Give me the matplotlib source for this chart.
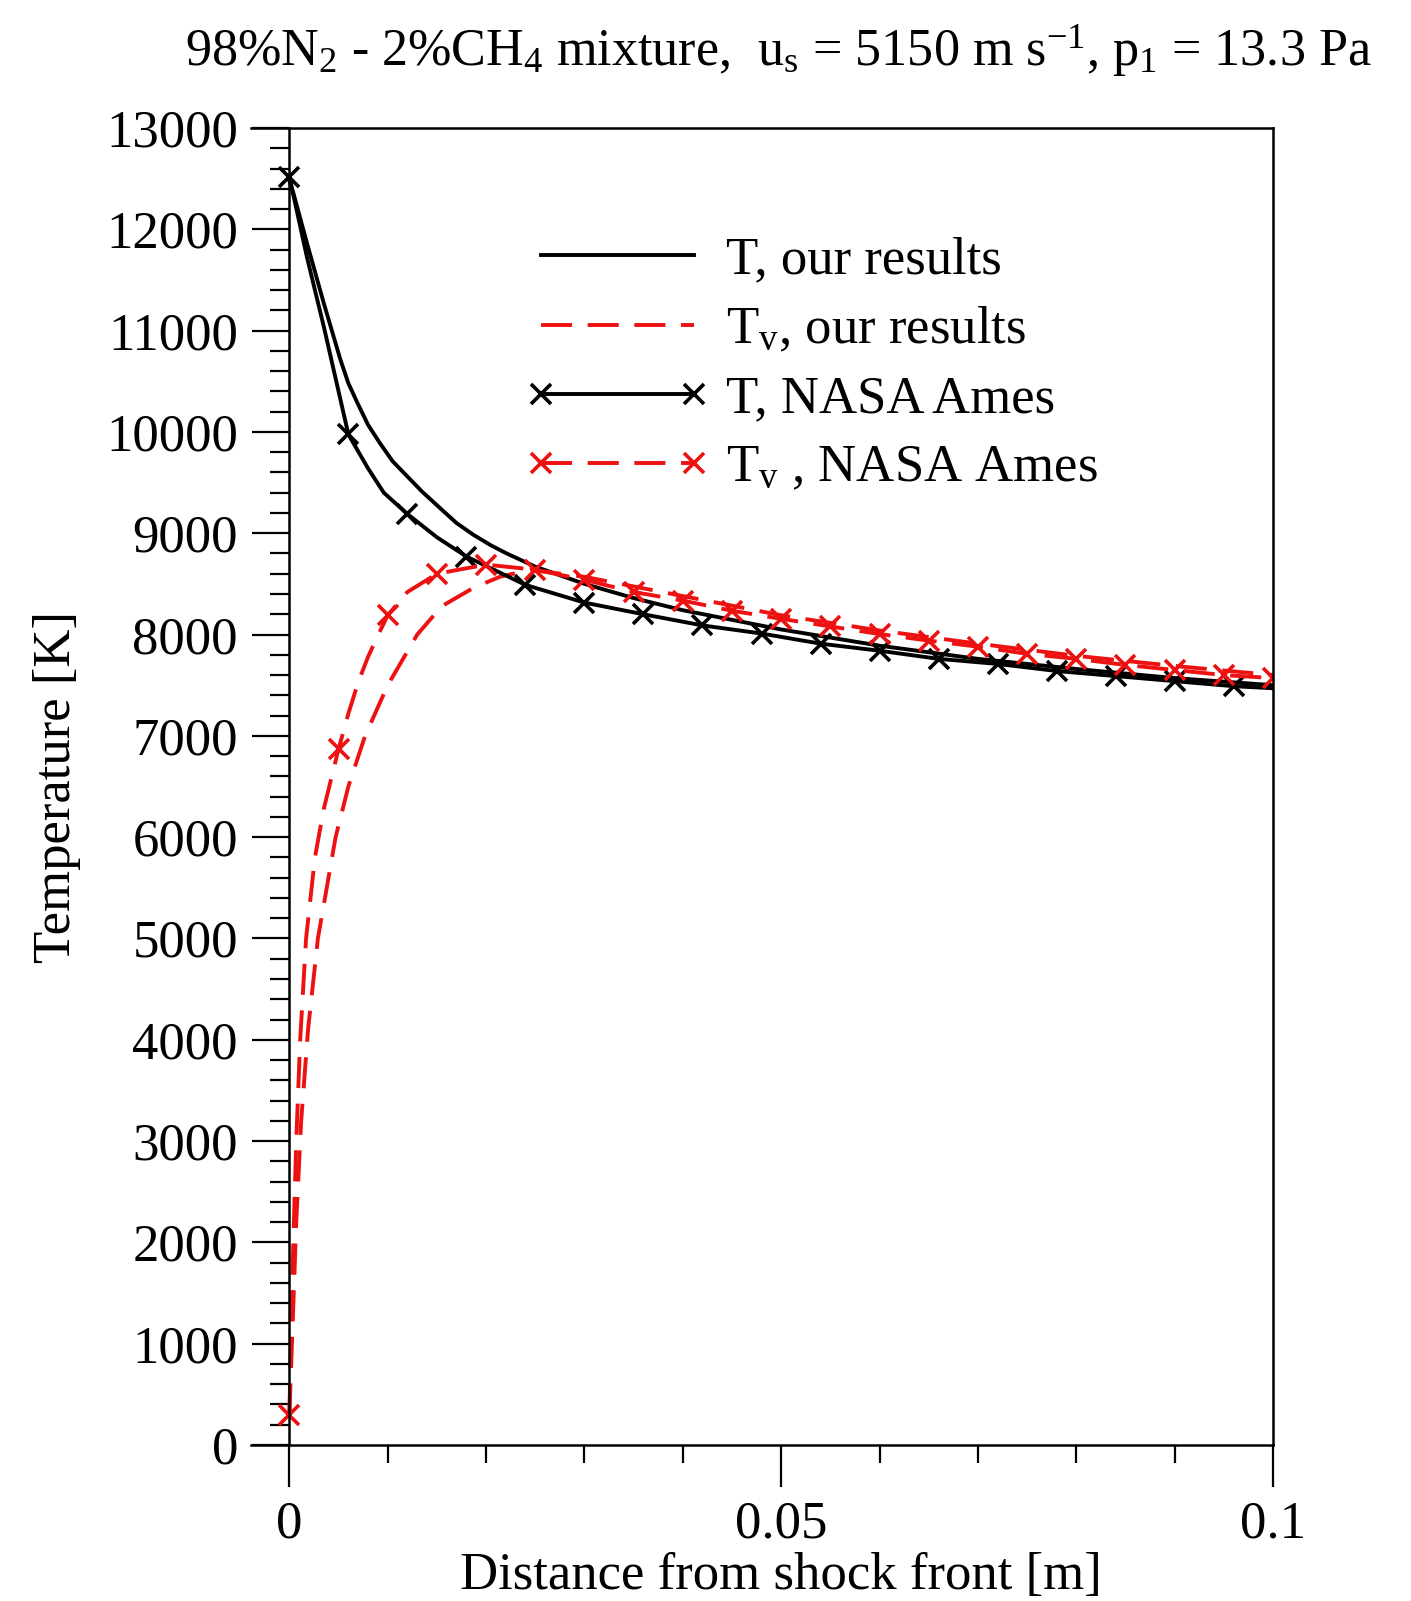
import numpy as np
import matplotlib.pyplot as plt
from matplotlib.ticker import MultipleLocator, FixedLocator

plt.rcParams['font.family'] = ['Liberation Serif', 'DejaVu Serif']
plt.rcParams['mathtext.default'] = 'regular'

# T, our results
x_t = [0, 0.0004, 0.0018, 0.0035, 0.0052, 0.006, 0.0069, 0.008, 0.0092, 0.0105,
       0.012, 0.0135, 0.0153, 0.017, 0.0187, 0.0205, 0.0221, 0.025, 0.03, 0.035,
       0.04, 0.05, 0.06, 0.07, 0.08, 0.09, 0.1]
t_ours = [12480, 12360, 11860, 11270, 10710, 10480, 10290, 10070, 9890, 9710,
          9560, 9410, 9250, 9100, 8985, 8880, 8800, 8670, 8500, 8360,
          8240, 8050, 7890, 7760, 7660, 7570, 7500]

# Tv, our results
x_tv = [0, 0.0003, 0.0007, 0.0012, 0.0019, 0.0029, 0.0047, 0.006, 0.0077, 0.01,
        0.013, 0.0155, 0.0187, 0.0214, 0.0245, 0.03, 0.04, 0.05, 0.06, 0.07,
        0.08, 0.09, 0.1]
tv_ours = [300, 1100, 2200, 3200, 4100, 5000, 6000, 6500, 7000, 7500,
           8000, 8280, 8460, 8570, 8640, 8570, 8380, 8190, 8040, 7910,
           7790, 7690, 7600]

# T, NASA Ames (symbols every 0.006 m)
x_t_nasa = [0, 0.0018, 0.0035, 0.006, 0.008, 0.0096, 0.012, 0.015, 0.018, 0.024,
            0.030, 0.036, 0.042, 0.048, 0.054, 0.060, 0.066, 0.072, 0.078, 0.084,
            0.090, 0.096, 0.1]
t_nasa = [12520, 11720, 11040, 9975, 9640, 9400, 9190, 8960, 8770, 8490,
          8315, 8200, 8090, 8010, 7910, 7840, 7760, 7710, 7640, 7590,
          7540, 7490, 7470]

# Tv, NASA Ames (symbols every 0.005 m)
x_tv_nasa = [0, 0.0002, 0.0004, 0.0007, 0.0011, 0.0017, 0.0026, 0.0035, 0.005, 0.006,
             0.007, 0.008, 0.009, 0.01, 0.012, 0.015, 0.02, 0.025, 0.03, 0.035,
             0.04, 0.045, 0.05, 0.055, 0.06, 0.065, 0.07, 0.075, 0.08, 0.085,
             0.09, 0.095, 0.1]
tv_nasa = [300, 1200, 2000, 3000, 4000, 5000, 5800, 6280, 6870, 7220,
           7530, 7780, 7990, 8190, 8420, 8600, 8690, 8640, 8540, 8420,
           8335, 8235, 8155, 8080, 8005, 7940, 7880, 7810, 7760, 7700,
           7650, 7600, 7570]


def symbol_indices(xs, step):
    return [i for i, x in enumerate(xs) if abs(x / step - round(x / step)) < 1e-6]


red = '#ee1111'
lw = 2.8
dash = (8, 4)
fig = plt.figure(figsize=(14.11, 16.01), dpi=100)
ax = fig.add_axes([251 / 1411, 1 - 1445 / 1601, 1022 / 1411, 1317 / 1601])

ax.plot(x_t, t_ours, color='black', lw=lw, label='T, our results')
ax.plot(x_tv, tv_ours, color=red, lw=lw, dashes=dash, label='T$_v$, our results')
ax.plot(x_t_nasa, t_nasa, color='black', lw=lw, marker='x', ms=14, mew=2.6,
        markevery=symbol_indices(x_t_nasa, 0.006), label='T, NASA Ames')
ax.plot(x_tv_nasa, tv_nasa, color=red, lw=lw, dashes=dash, marker='x', ms=14, mew=2.6,
        markevery=symbol_indices(x_tv_nasa, 0.005), label='T$_v$ , NASA Ames')

ax.set_xlim(-0.0039, 0.1)
ax.set_ylim(0, 13000)
ax.spines['left'].set_position(('data', 0))
for s in ax.spines.values():
    s.set_linewidth(1.8)

ax.xaxis.set_major_locator(FixedLocator([0, 0.05, 0.1]))
ax.xaxis.set_minor_locator(FixedLocator(np.arange(1, 10) * 0.01))
ax.set_xticklabels(['0', '0.05', '0.1'])
ax.yaxis.set_major_locator(MultipleLocator(1000))
ax.yaxis.set_minor_locator(MultipleLocator(200))
ax.tick_params(which='both', direction='out', width=1.6, labelsize=38,
               top=False, right=False)
ax.tick_params(axis='y', which='major', length=27, pad=10)
ax.tick_params(axis='y', which='minor', length=14)
ax.tick_params(axis='x', which='major', length=30, pad=10)
ax.tick_params(axis='x', which='minor', length=13)

ax.set_xlabel('Distance from shock front [m]', fontsize=38)
ax.xaxis.set_label_coords(0.0539 / 0.1039, -0.081)
ax.set_ylabel('Temperature [K]', fontsize=38, labelpad=18)

fig.text(778 / 1411, 1 - 51 / 1601,
         '98%N$_2$ - 2%CH$_4$ mixture,  u$_s$ = 5150 m s$^{-1}$, p$_1$ = 13.3 Pa',
         ha='center', va='center', fontsize=37.5)

ax.legend(loc='upper left', bbox_to_anchor=(525 / 1411, 1 - 236 / 1601),
          bbox_transform=fig.transFigure, frameon=False, fontsize=38,
          handlelength=3.5, handletextpad=0.31, labelspacing=0.4,
          borderpad=0, borderaxespad=0, numpoints=2)

fig.savefig('out.png', dpi=100)
